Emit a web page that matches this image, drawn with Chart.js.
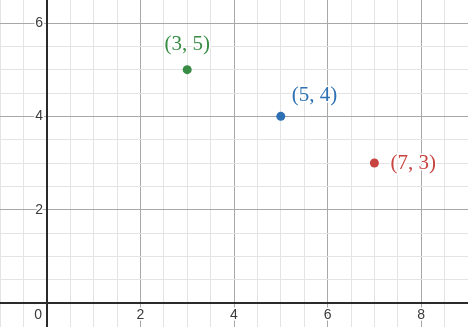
<!DOCTYPE html>
<html>
<head>
<meta charset="utf-8">
<script src="https://cdn.jsdelivr.net/npm/chart.js@4/dist/chart.umd.min.js"></script>
<style>
  html, body { margin: 0; padding: 0; background: #fff; }
  #wrap { width: 468px; height: 327px; position: relative; }
</style>
</head>
<body>
<div id="wrap"><canvas id="c"></canvas></div>
<script>
// ---- data ----
const pointX = [3, 5, 7];
const pointY = [5, 4, 3];
const pointLabels = ['(3, 5)', '(5, 4)', '(7, 3)'];
const xTickLabels = [2, 4, 6, 8];
const yTickLabels = [2, 4, 6];
const originLabel = '0';

// ---- styles ----
const pointColors = ['#388c46', '#2d70b3', '#c74440'];
const labelOffsets = [
  { dx: 0, dy: -25, align: 'center' },
  { dx: 11, dy: -21, align: 'left' },
  { dx: 16, dy: 0, align: 'left' }
];

function isHalf(v) { return Math.abs(v * 2 - Math.round(v * 2)) < 1e-6; }
function isMajor(v) { return Math.abs(v / 2 - Math.round(v / 2)) < 1e-6; }
function gridColor(ctx) {
  const v = ctx.tick.value;
  if (!isHalf(v)) return 'rgba(0,0,0,0)';
  if (Math.abs(v) < 1e-6) return 'rgba(0,0,0,0)';
  return isMajor(v) ? '#a8a8a8' : '#e4e4e4';
}

const overlay = {
  id: 'overlay',
  beforeDatasetsDraw(chart) {
    const { ctx, chartArea: a } = chart;
    const xs = chart.scales.x, ys = chart.scales.y;
    const x0 = Math.round(xs.getPixelForValue(0));
    const y0 = Math.round(ys.getPixelForValue(0));
    ctx.save();
    ctx.strokeStyle = '#2a2a2a';
    ctx.lineWidth = 2;
    ctx.beginPath();
    ctx.moveTo(x0, a.top); ctx.lineTo(x0, a.bottom);
    ctx.moveTo(a.left, y0); ctx.lineTo(a.right, y0);
    ctx.stroke();

    ctx.font = '14px "Liberation Sans", Arial, sans-serif';
    ctx.lineWidth = 3;
    ctx.strokeStyle = '#ffffff';
    ctx.fillStyle = '#3a3a3a';
    ctx.textBaseline = 'middle';
    const drawText = (t, x, y) => { ctx.strokeText(t, x, y); ctx.fillText(t, x, y); };
    ctx.textAlign = 'center';
    xTickLabels.forEach(v => drawText(String(v), xs.getPixelForValue(v), y0 + 12));
    ctx.textAlign = 'right';
    yTickLabels.forEach(v => drawText(String(v), x0 - 4, ys.getPixelForValue(v)));
    drawText(originLabel, x0 - 5, y0 + 12);
    ctx.restore();
  },
  afterDatasetsDraw(chart) {
    const { ctx } = chart;
    const meta = chart.getDatasetMeta(0);
    ctx.save();
    ctx.font = '21px "Liberation Serif", "DejaVu Serif", serif';
    ctx.textBaseline = 'middle';
    meta.data.forEach((el, i) => {
      const o = labelOffsets[i];
      ctx.textAlign = o.align;
      ctx.lineWidth = 3;
      ctx.strokeStyle = 'rgba(255,255,255,0.9)';
      ctx.strokeText(pointLabels[i], el.x + o.dx, el.y + o.dy);
      ctx.fillStyle = pointColors[i];
      ctx.fillText(pointLabels[i], el.x + o.dx, el.y + o.dy);
    });
    ctx.restore();
  }
};

new Chart(document.getElementById('c'), {
  type: 'scatter',
  data: {
    datasets: [{
      data: pointX.map((x, i) => ({ x, y: pointY[i] })),
      backgroundColor: pointColors,
      borderColor: pointColors,
      pointRadius: 4.5,
      pointHoverRadius: 4.5,
      borderWidth: 0
    }]
  },
  options: {
    responsive: true,
    maintainAspectRatio: false,
    animation: false,
    layout: { padding: 0, autoPadding: false },
    plugins: { legend: { display: false }, tooltip: { enabled: false } },
    events: [],
    scales: {
      x: {
        type: 'linear',
        min: -1,
        max: 9,
        ticks: { display: false, stepSize: 0.5 },
        grid: { color: gridColor, lineWidth: 1, drawTicks: false },
        border: { display: false }
      },
      y: {
        type: 'linear',
        min: -0.514,
        max: 6.493,
        ticks: { display: false, stepSize: 0.5 },
        grid: { color: gridColor, lineWidth: 1, drawTicks: false },
        border: { display: false }
      }
    }
  },
  plugins: [overlay]
});
</script>
</body>
</html>
